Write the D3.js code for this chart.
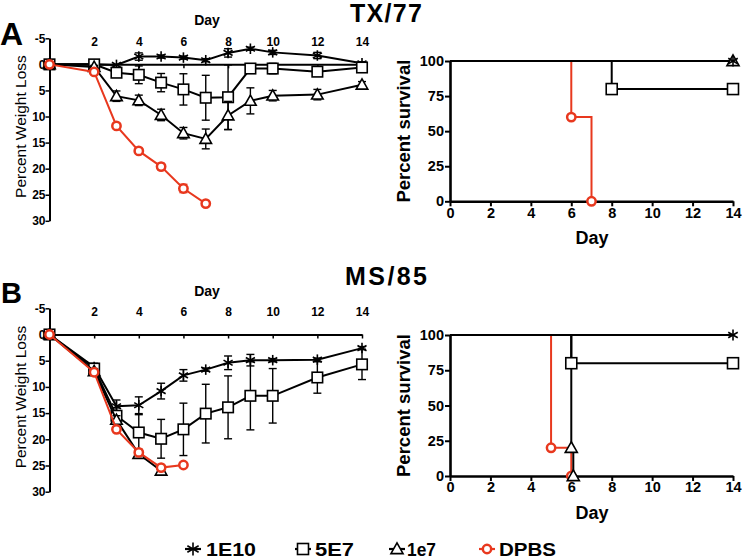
<!DOCTYPE html>
<html><head><meta charset="utf-8">
<script src="https://cdn.jsdelivr.net/npm/d3@7"></script>
<style>body{margin:0;background:#fff} svg{display:block}</style>
</head><body>
<svg id="chart" width="743" height="559"></svg>
<script>
// ---------- DATA ----------
const days = [0, 2, 3, 4, 5, 6, 7, 8, 9, 10, 12, 14];
const xTicksWeight = [2, 4, 6, 8, 10, 12, 14];
const yTicksWeight = [-5, 0, 5, 10, 15, 20, 25, 30];
const xTicksSurv = [0, 2, 4, 6, 8, 10, 12, 14];
const yTicksSurv = [0, 25, 50, 75, 100];
const seriesNames = ["1E10", "5E7", "1e7", "DPBS"];

// Panel A (TX/77) percent weight loss, mean and error
const A_1E10    = [0, 0, 0.1, -1.5, -1.5, -1.3, -0.8, -2.2, -3.0, -2.3, -1.7, -0.2];
const A_1E10_sd = [0, 0, 0.2, 0.7, 0.3, 0.3, 0.3, 0.8, 0.3, 0.4, 0.6, 0.3];
const A_5E7     = [0, 0, 1.6, 2.0, 3.5, 4.8, 6.4, 6.3, 0.8, 0.8, 1.4, 0.6];
const A_5E7_sd  = [0, 0.3, 0.8, 1.7, 1.75, 3.0, 4.3, 6.2, 0.4, 1.0, 0.8, 0.4];
const A_1e7     = [0, 0.5, 6.1, 6.9, 9.7, 13.2, 14.3, 9.8, 7.0, 6.0, 5.8, 3.9];
const A_1e7_sd  = [0, 0.3, 1.0, 1.0, 1.1, 1.1, 1.9, 2.7, 2.5, 1.0, 1.0, 0.6];
const A_DPBS    = [0, 1.45, 11.8, 16.6, 19.6, 23.8, 26.7, null, null, null, null, null];
const A_DPBS_sd = [0, 0.3, 0.2, 0.2, 0.6, 0.8, 0.2, null, null, null, null, null];

// Panel B (MS/85) percent weight loss, mean and error
const B_1E10    = [0, 6.2, 13.7, 13.5, 10.8, 7.8, 6.7, 5.4, 4.9, 4.9, 4.8, 2.6];
const B_1E10_sd = [0, 0.6, 1.2, 1.6, 1.5, 1.1, 0.3, 1.3, 1.1, 0.3, 0.3, 0.3];
const B_5E7     = [0, 6.5, 15.5, 18.7, 19.9, 18.1, 15.1, 13.9, 11.7, 11.7, 8.2, 5.7];
const B_5E7_sd  = [0, 1.0, 1.5, 3.4, 3.7, 5.0, 5.6, 6.0, 6.5, 5.2, 3.0, 2.9];
const B_1e7     = [0, 7.0, 16.3, 22.8, 26.0, null, null, null, null, null, null, null];
const B_1e7_sd  = [0, 0.5, 0.8, 0.8, 0.5, null, null, null, null, null, null, null];
const B_DPBS    = [0, 7.2, 18.1, 22.5, 25.4, 24.9, null, null, null, null, null, null];
const B_DPBS_sd = [0, 0.3, 0.3, 0.6, 0.3, 0.3, null, null, null, null, null, null];

// Survival (time, percent)
const SA_1E10_t = [0, 14],     SA_1E10_s = [100, 100];
const SA_5E7_t  = [0, 8, 14],  SA_5E7_s  = [100, 80, 80];
const SA_1e7_t  = [0, 14],     SA_1e7_s  = [100, 100];
const SA_DPBS_t = [0, 6, 7],   SA_DPBS_s = [100, 60, 0];
const SB_1E10_t = [0, 14],     SB_1E10_s = [100, 100];
const SB_5E7_t  = [0, 6, 14],  SB_5E7_s  = [100, 80, 80];
const SB_1e7_t  = [0, 6, 6.1], SB_1e7_s  = [100, 20, 0];
const SB_DPBS_t = [0, 5, 6],   SB_DPBS_s = [100, 20, 0];

// ---------- STYLE ----------
const RED = "#e8381e";
const FONT = "'Liberation Sans', Arial, Helvetica, sans-serif";
const types = {"1E10": "star", "5E7": "square", "1e7": "triangle", "DPBS": "circle"};
const colors = {"1E10": "#000", "5E7": "#000", "1e7": "#000", "DPBS": RED};

const svg = d3.select("#chart").style("font-family", FONT);

function marker(g, type, cx, cy, color, s) {
  const m = g.append("g").attr("transform", `translate(${cx},${cy})`);
  if (type === "star") {
    const r = s / 2;
    [90, 30, 150].forEach(a => {
      const rad = a * Math.PI / 180;
      m.append("line").attr("x1", -r * Math.cos(rad)).attr("y1", -r * Math.sin(rad))
        .attr("x2", r * Math.cos(rad)).attr("y2", r * Math.sin(rad))
        .attr("stroke", color).attr("stroke-width", 1.6);
    });
  } else if (type === "square") {
    m.append("rect").attr("x", -s / 2).attr("y", -s / 2).attr("width", s).attr("height", s)
      .attr("fill", "#fff").attr("stroke", color).attr("stroke-width", 1.6);
  } else if (type === "triangle") {
    m.append("path").attr("d", `M0,${-s * 0.55}L${s * 0.55},${s * 0.42}L${-s * 0.55},${s * 0.42}Z`)
      .attr("fill", "#fff").attr("stroke", color).attr("stroke-width", 1.6);
  } else {
    m.append("circle").attr("r", s * 0.38).attr("fill", "#fff")
      .attr("stroke", color).attr("stroke-width", 2.5);
  }
}

function styleAxis(g, size, weight) {
  g.selectAll("path,line").attr("stroke", "#000");
  g.selectAll("text").attr("font-family", FONT).attr("font-size", size)
    .attr("font-weight", weight).attr("fill", "#000");
}

function drawWeight(cfg) {
  const g = svg.append("g");
  const x = d3.scaleLinear().domain([0, 14]).range([49.5, 362]);
  const y = d3.scaleLinear().domain([-5, 30]).range(cfg.yr);
  const ya = g.append("g").attr("transform", `translate(${x(0)},0)`)
    .call(d3.axisLeft(y).tickValues(yTicksWeight).tickSize(4).tickSizeOuter(0).tickFormat(d => String(d)));
  ya.select(".domain").attr("stroke-width", 2);
  ya.selectAll(".tick line").attr("stroke-width", 1.5);
  styleAxis(ya, 12, "bold");
  ya.selectAll("text").attr("x", -4);
  const xa = g.append("g").attr("transform", `translate(0,${y(0)})`)
    .call(d3.axisBottom(x).tickValues(xTicksWeight).tickSize(4).tickSizeOuter(0));
  xa.select(".domain").attr("stroke-width", 2);
  xa.selectAll(".tick line").attr("stroke-width", 1.5);
  styleAxis(xa, 12, "bold");
  xa.selectAll("text").attr("y", cfg.tickBase - y(0)).attr("dy", 0);
  g.append("text").attr("x", 207).attr("y", cfg.dayBase).attr("text-anchor", "middle")
    .attr("font-size", 14).attr("font-weight", "bold").text("Day");
  g.append("text").attr("transform", `translate(26,${(cfg.yr[0] + cfg.yr[1]) / 2 - 3}) rotate(-90)`)
    .attr("text-anchor", "middle").attr("font-size", 15.5).text("Percent Weight Loss");
  cfg.series.forEach(s => {
    const pts = days.map((d, i) => ({d, v: s.values[i], e: s.sd[i]})).filter(p => p.v !== null);
    g.append("path").datum(pts).attr("fill", "none").attr("stroke", s.color).attr("stroke-width", 2)
      .attr("d", d3.line().x(p => x(p.d)).y(p => y(p.v)));
    pts.filter(p => p.e > 0.25).forEach(p => {
      const x0 = x(p.d), y1 = y(p.v - p.e), y2 = y(p.v + p.e);
      g.append("line").attr("x1", x0).attr("x2", x0).attr("y1", y1).attr("y2", y2)
        .attr("stroke", s.color).attr("stroke-width", 1.4);
      [y1, y2].forEach(yy => g.append("line").attr("x1", x0 - 4).attr("x2", x0 + 4)
        .attr("y1", yy).attr("y2", yy).attr("stroke", s.color).attr("stroke-width", 1.4));
    });
    pts.forEach(p => marker(g, s.type, x(p.d), y(p.v), s.color, s.type === "circle" ? 11 : 10.5));
  });
}

function drawSurv(cfg) {
  const g = svg.append("g");
  const x = d3.scaleLinear().domain([0, 14]).range([450, 733]);
  const y = d3.scaleLinear().domain([0, 100]).range(cfg.yr);
  const ya = g.append("g").attr("transform", `translate(${x(0)},0)`)
    .call(d3.axisLeft(y).tickValues(yTicksSurv).tickSize(5).tickSizeOuter(0));
  ya.select(".domain").attr("stroke-width", 2.6);
  ya.selectAll(".tick line").attr("stroke-width", 2);
  styleAxis(ya, 14.5, "bold");
  ya.selectAll("text").attr("x", -6);
  const xa = g.append("g").attr("transform", `translate(0,${y(0)})`)
    .call(d3.axisBottom(x).tickValues(xTicksSurv).tickSize(5).tickSizeOuter(0));
  xa.select(".domain").attr("stroke-width", 2.6);
  xa.selectAll(".tick line").attr("stroke-width", 2);
  styleAxis(xa, 14.5, "bold");
  xa.selectAll("text").attr("y", 6).attr("dy", "0.71em");
  g.append("text").attr("x", 592).attr("y", cfg.dayBase).attr("text-anchor", "middle")
    .attr("font-size", 18).attr("font-weight", "bold").text("Day");
  g.append("text").attr("transform", `translate(410,${(cfg.yr[0] + cfg.yr[1]) / 2}) rotate(-90)`)
    .attr("text-anchor", "middle").attr("font-size", 18.5).attr("font-weight", "bold").text("Percent survival");
  const order = ["DPBS", "1e7", "5E7", "1E10"];
  order.forEach(n => {
    const s = cfg.series[n];
    const pts = s.t.map((t, i) => ({t, v: s.s[i]}));
    g.append("path").datum(pts).attr("fill", "none").attr("stroke", colors[n]).attr("stroke-width", 2)
      .attr("d", d3.line().curve(d3.curveStepAfter).x(p => x(p.t)).y(p => y(p.v)));
  });
  order.forEach(n => {
    const s = cfg.series[n];
    s.t.forEach((t, i) => { if (i > 0) marker(g, types[n], x(t), y(s.s[i]), colors[n], 11); });
  });
}

function mk(name, v, sd) { return {name, type: types[name], color: colors[name], values: v, sd}; }

drawWeight({yr: [38.3, 220.8], tickBase: 45.5, dayBase: 25,
  series: [mk("1E10", A_1E10, A_1E10_sd), mk("5E7", A_5E7, A_5E7_sd), mk("1e7", A_1e7, A_1e7_sd), mk("DPBS", A_DPBS, A_DPBS_sd)]});
drawWeight({yr: [308.3, 491.7], tickBase: 315.5, dayBase: 295.5,
  series: [mk("1E10", B_1E10, B_1E10_sd), mk("5E7", B_5E7, B_5E7_sd), mk("1e7", B_1e7, B_1e7_sd), mk("DPBS", B_DPBS, B_DPBS_sd)]});

drawSurv({yr: [201.3, 61], dayBase: 244,
  series: {"1E10": {t: SA_1E10_t, s: SA_1E10_s}, "5E7": {t: SA_5E7_t, s: SA_5E7_s},
           "1e7": {t: SA_1e7_t, s: SA_1e7_s}, "DPBS": {t: SA_DPBS_t, s: SA_DPBS_s}}});
drawSurv({yr: [476, 335], dayBase: 519,
  series: {"1E10": {t: SB_1E10_t, s: SB_1E10_s}, "5E7": {t: SB_5E7_t, s: SB_5E7_s},
           "1e7": {t: SB_1e7_t, s: SB_1e7_s}, "DPBS": {t: SB_DPBS_t, s: SB_DPBS_s}}});

svg.append("text").attr("x", 386).attr("y", 22).attr("text-anchor", "middle")
  .attr("font-size", 25).attr("font-weight", "bold").attr("textLength", 72).text("TX/77");
svg.append("text").attr("x", 386).attr("y", 285).attr("text-anchor", "middle")
  .attr("font-size", 25).attr("font-weight", "bold").attr("textLength", 82).text("MS/85");
svg.append("text").attr("x", 0).attr("y", 45).attr("font-size", 32).attr("font-weight", "bold").text("A");
svg.append("text").attr("x", 1).attr("y", 303).attr("font-size", 29).attr("font-weight", "bold").text("B");

// Legend
const legX = {"1E10": [193, 206, 50], "5E7": [303, 315, 39], "1e7": [397, 407, 29], "DPBS": [487, 499, 57]};
const lg = svg.append("g");
seriesNames.forEach(n => {
  const [mx, tx, tl] = legX[n];
  lg.append("line").attr("x1", mx - 8).attr("x2", mx + 8).attr("y1", 549).attr("y2", 549)
    .attr("stroke", colors[n]).attr("stroke-width", 2.2);
  marker(lg, types[n], mx, 549, colors[n], n === "1E10" ? 13 : 11);
  lg.append("text").attr("x", tx).attr("y", 555.5).attr("font-size", 18).attr("font-weight", "bold")
    .attr("textLength", tl).attr("lengthAdjust", "spacingAndGlyphs").text(n);
});
</script>
</body></html>
